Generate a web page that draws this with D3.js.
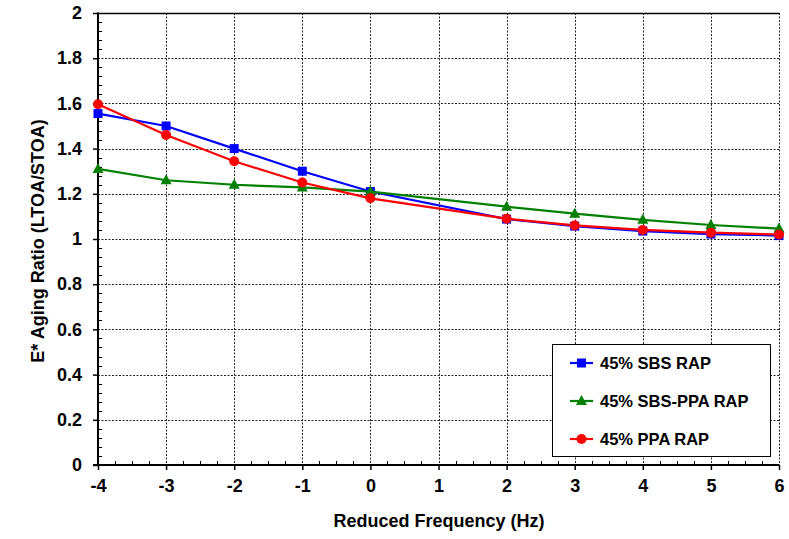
<!DOCTYPE html>
<html>
<head>
<meta charset="utf-8">
<script src="https://cdn.jsdelivr.net/npm/d3@7"></script>
<style>
  html, body { margin: 0; padding: 0; background: #fff; }
  svg { display: block; font-family: "Liberation Sans", Arial, sans-serif; font-weight: bold; }
</style>
</head>
<body>
<svg id="chart" width="789" height="539"></svg>
<script>
// Reduced frequency positions (Hz, log scale exponent) where values were measured
const frequencies = [-4, -3, -2, -1, 0, 2, 3, 4, 5, 6];

// E* aging ratio (LTOA/STOA) for each mix
const sbsRap    = [1.555, 1.50, 1.40, 1.30, 1.21, 1.088, 1.057, 1.035, 1.022, 1.015];
const sbsPpaRap = [1.31, 1.26, 1.24, 1.228, 1.21, 1.143, 1.112, 1.085, 1.062, 1.046];
const ppaRap    = [1.596, 1.46, 1.344, 1.25, 1.18, 1.09, 1.06, 1.04, 1.028, 1.02];

const seriesNames = ["45% SBS RAP", "45% SBS-PPA RAP", "45% PPA RAP"];
const xTicks = [-4, -3, -2, -1, 0, 1, 2, 3, 4, 5, 6];
const yTicks = [0, 0.2, 0.4, 0.6, 0.8, 1, 1.2, 1.4, 1.6, 1.8, 2];

const series = [
  { name: seriesNames[0], values: sbsRap,    color: "#0000ff", shape: "square" },
  { name: seriesNames[1], values: sbsPpaRap, color: "#008000", shape: "triangle" },
  { name: seriesNames[2], values: ppaRap,    color: "#ff0000", shape: "circle" }
];

const svg = d3.select("#chart");
const plotL = 98, plotR = 779, plotT = 13, plotB = 465;

const x = d3.scaleLinear().domain([-4, 6]).range([plotL, plotR]);
const y = d3.scaleLinear().domain([0, 2]).range([plotB, plotT]);

// Gridlines
const grid = svg.append("g").attr("stroke", "#000").attr("stroke-width", 1)
  .attr("stroke-dasharray", "2,1.5").attr("opacity", 0.85);
grid.selectAll("line.h").data(yTicks.filter(d => d > 0 && d < 2)).join("line")
  .attr("x1", plotL).attr("x2", plotR)
  .attr("y1", d => Math.round(y(d)) + 0.5).attr("y2", d => Math.round(y(d)) + 0.5);
grid.selectAll("line.v").data(xTicks.filter(d => d > -4)).join("line")
  .attr("y1", plotT).attr("y2", plotB)
  .attr("x1", d => Math.round(x(d)) + 0.5).attr("x2", d => Math.round(x(d)) + 0.5);

// Top frame line
svg.append("line").attr("x1", plotL).attr("x2", plotR + 1)
  .attr("y1", plotT + 0.5).attr("y2", plotT + 0.5)
  .attr("stroke", "#000").attr("stroke-width", 1.5);

// Minor ticks (inside)
const yMinor = d3.range(0, 2.0001, 0.04).filter(v => Math.abs(v * 5 - Math.round(v * 5)) > 1e-6);
svg.append("g").selectAll("line").data(yMinor).join("line")
  .attr("x1", plotL).attr("x2", plotL + 4)
  .attr("y1", d => Math.round(y(d)) + 0.5).attr("y2", d => Math.round(y(d)) + 0.5)
  .attr("stroke", "#000").attr("stroke-width", 1);
const xMinor = d3.range(-4, 6.0001, 0.25).filter(v => Math.abs(v - Math.round(v)) > 1e-6);
svg.append("g").selectAll("line").data(xMinor).join("line")
  .attr("y1", plotB).attr("y2", plotB - 4)
  .attr("x1", d => Math.round(x(d)) + 0.5).attr("x2", d => Math.round(x(d)) + 0.5)
  .attr("stroke", "#000").attr("stroke-width", 1);

// Axes
const yAxis = svg.append("g").attr("transform", `translate(${plotL},0)`)
  .call(d3.axisLeft(y).tickValues(yTicks).tickSize(5).tickPadding(11)
    .tickFormat(d => d3.format("~g")(d)));
const xAxis = svg.append("g").attr("transform", `translate(0,${plotB})`)
  .call(d3.axisBottom(x).tickValues(xTicks).tickSize(5).tickPadding(9)
    .tickFormat(d => d3.format("d")(d).replace("−", "-")));
[xAxis, yAxis].forEach(a => {
  a.select(".domain").attr("stroke", "#000").attr("stroke-width", 2);
  a.selectAll(".tick line").attr("stroke", "#000").attr("stroke-width", 1.5);
  a.selectAll(".tick text").attr("fill", "#000")
    .style("font-size", "18px").style("font-weight", "bold")
    .style("font-family", "'Liberation Sans', Arial, sans-serif");
});
yAxis.select(".domain").attr("d", `M0,${plotB}V${plotT - 0.5}`);
xAxis.select(".domain").attr("d", `M${plotL - 5},0H${plotR}`);

// Axis titles
svg.append("text").attr("x", 439).attr("y", 527).attr("text-anchor", "middle")
  .style("font-size", "18px").text("Reduced Frequency (Hz)");
svg.append("text").attr("transform", "translate(44,241) rotate(-90)")
  .attr("text-anchor", "middle").style("font-size", "18px")
  .text("E* Aging Ratio (LTOA/STOA)");

// Marker shapes
function marker(g, shape, color, cx, cy) {
  if (shape === "square") {
    g.append("rect").attr("x", cx - 4.5).attr("y", cy - 4.5)
      .attr("width", 9).attr("height", 9).attr("fill", color);
  } else if (shape === "triangle") {
    g.append("path").attr("d", `M${cx},${cy - 6}L${cx + 5.5},${cy + 4}L${cx - 5.5},${cy + 4}Z`)
      .attr("fill", color);
  } else {
    g.append("circle").attr("cx", cx).attr("cy", cy).attr("r", 5).attr("fill", color);
  }
}

const line = d3.line().x(d => x(d[0])).y(d => y(d[1]));
series.forEach(s => {
  const pts = frequencies.map((f, i) => [f, s.values[i]]);
  const g = svg.append("g");
  g.append("path").attr("d", line(pts)).attr("fill", "none")
    .attr("stroke", s.color).attr("stroke-width", 2.2);
  pts.forEach(p => marker(g, s.shape, s.color, x(p[0]), y(p[1])));
});

// Legend
const lg = svg.append("g");
lg.append("rect").attr("x", 552.5).attr("y", 344.5).attr("width", 218).attr("height", 112)
  .attr("fill", "#fff").attr("stroke", "#000").attr("stroke-width", 1);
const legendY = [363, 401, 439];
series.forEach((s, i) => {
  const ly = legendY[i];
  lg.append("line").attr("x1", 570).attr("x2", 593).attr("y1", ly).attr("y2", ly)
    .attr("stroke", s.color).attr("stroke-width", 2.2);
  marker(lg, s.shape, s.color, 581.5, ly);
  lg.append("text").attr("x", 600).attr("y", ly + 6).style("font-size", "16.5px").text(s.name);
});
</script>
</body>
</html>
